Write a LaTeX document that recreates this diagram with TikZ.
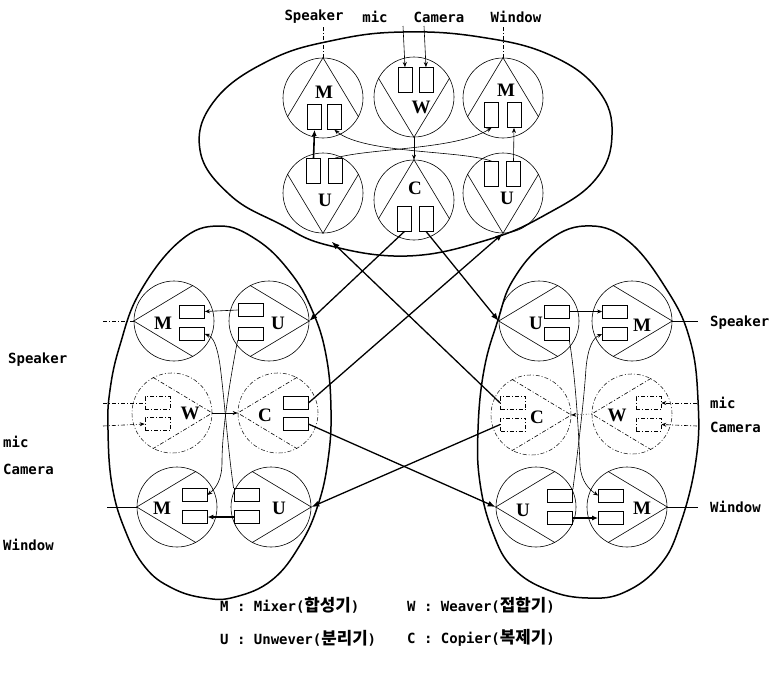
\documentclass[tikz,border=0pt]{standalone}
\usepackage{fontspec}
\usetikzlibrary{arrows.meta}
\newfontfamily\labfont{DejaVu Sans Mono}
\newfontfamily\krfont[Scale=1.2]{Noto Sans CJK KR}
\newfontfamily\serfont{Liberation Serif}
\begin{document}
\begin{tikzpicture}[x=1pt,y=-1pt,
  ucirc/.style={circle,draw,line width=0.6pt,minimum size=80pt,inner sep=0pt},
  ddash/.style={dash pattern=on 4pt off 2pt on 1pt off 2pt},
  dcirc/.style={ucirc,ddash,draw=black!85},
  vbox/.style={rectangle,draw,line width=0.8pt,minimum width=14pt,minimum height=25pt,inner sep=0pt},
  hbox/.style={rectangle,draw,line width=0.8pt,minimum width=25pt,minimum height=13pt,inner sep=0pt},
  dhbox/.style={hbox,ddash,line width=0.6pt},
  ltr/.style={font=\serfont\bfseries\fontsize{19}{19}\selectfont,inner sep=0pt},
  lab/.style={font=\labfont\bfseries\fontsize{14}{16}\selectfont,inner sep=0pt},
  chord/.style={line width=0.6pt},
  dchord/.style={line width=0.6pt,ddash},
  eline/.style={line width=1.5pt},
  xlink/.style={line width=1.3pt,-{Latex[length=8pt,width=6pt]}},
  inarrow/.style={line width=0.6pt,-{Stealth[length=5pt,width=4pt]}},
  boldarrow/.style={line width=1.6pt,-{Latex[length=6pt,width=5pt]}},
]
\useasboundingbox (0,0) rectangle (771,672);

% ---------- cluster outlines ----------
\draw[eline] plot[smooth cycle,tension=0.7] coordinates {(403,32) (480,37) (550,55) (598,90) (612,135) (595,180) (545,215) (487,240) (407,256) (327,245) (280,224) (230,195) (200,150) (215,100) (270,60) (335,40)};
\draw[eline] plot[smooth cycle,tension=0.7] coordinates {(219,226) (257,240) (290,272) (312,310) (326,355) (331,410) (328,460) (318,505) (300,545) (272,580) (235,597) (205,598) (172,588) (145,567) (125,530) (112,485) (108,430) (110,390) (120,345) (140,292) (180,241)};
\draw[eline] plot[smooth cycle,tension=0.7] coordinates {(585,226) (627,240) (667,290) (690,340) (698,400) (696,460) (680,525) (660,565) (625,592) (588,598) (548,590) (513,568) (493,533) (480,483) (478,430) (484,370) (498,320) (513,280) (545,243)};

% ---------- top cluster ----------
\node[ucirc] (tM1) at (323,98) {};
\node[ucirc] (tW) at (414,97) {};
\node[ucirc] (tM2) at (503,98) {};
\node[ucirc] (tU1) at (323,193) {};
\node[ucirc] (tC) at (414,200) {};
\node[ucirc] (tU2) at (503,193) {};
\draw[chord] (tM1.208) -- (tM1.90) -- (tM1.332);
\draw[chord] (tW.152) -- (tW.270) -- (tW.28);
\draw[chord] (tM2.208) -- (tM2.90) -- (tM2.332);
\draw[chord] (tU1.152) -- (tU1.270) -- (tU1.28);
\draw[chord] (tC.208) -- (tC.90) -- (tC.332);
\draw[chord] (tU2.152) -- (tU2.270) -- (tU2.28);
\node[ltr] (tM1t) at (324,92) {M};
\node[ltr] (tWt) at (421,107) {W};
\node[ltr] (tM2t) at (506,90) {M};
\node[ltr] (tU1t) at (325,200) {U};
\node[ltr] (tCt) at (415,188) {C};
\node[ltr] (tU2t) at (507,198) {U};
\node[vbox] (tM1a) at (314.5,117) {};
\node[vbox] (tM1b) at (334.5,117) {};
\node[vbox] (tWa) at (405,80) {};
\node[vbox] (tWb) at (426,80) {};
\node[vbox] (tM2a) at (491.5,115) {};
\node[vbox] (tM2b) at (514,115) {};
\node[vbox] (tU1a) at (313.5,171) {};
\node[vbox] (tU1b) at (335,171) {};
\node[vbox] (tCa) at (404.5,218.5) {};
\node[vbox] (tCb) at (426,218.5) {};
\node[vbox] (tU2a) at (491.5,174) {};
\node[vbox] (tU2b) at (513.5,174) {};

% top labels and inputs
\node[lab] (tsp) at (314,17) {Speaker};
\node[lab] (tmic) at (375,17) {mic};
\node[lab] (tcam) at (439,17) {Camera};
\node[lab] (twin) at (516,17) {Window};
\coordinate (tspc) at (323,27);
\coordinate (twinc) at (503,27);
\coordinate (tmicc) at (403,26);
\coordinate (tcamc) at (424,26);
\draw[chord,ddash] (tspc) -- (tM1.90);
\draw[chord,ddash] (twinc) -- (tM2.90);
\draw[inarrow] (tmicc) -- (tWa.north);
\draw[inarrow] (tcamc) -- (tWb.north);

% top internal connectors
\draw[boldarrow] (tU1a.north) -- (tM1a.south);
\draw[inarrow] (tU2b.north) -- (tM2b.south);
\draw[inarrow] (tW.270) -- (tC.90);
\draw[inarrow] (tU1b.north) .. controls (370,148) and (455,150) .. (tM2a.south);
\draw[inarrow] (tU2a.north) .. controls (460,150) and (365,154) .. (tM1b.south);

% ---------- left cluster ----------
\node[ucirc] (lM1) at (174,321) {};
\node[ucirc] (lU1) at (269,321) {};
\node[dcirc] (lW) at (172,413) {};
\node[dcirc] (lC) at (278,413) {};
\node[ucirc] (lM2) at (177,507) {};
\node[ucirc] (lU2) at (271,507) {};
\draw[chord] (lM1.62) -- (lM1.180) -- (lM1.298);
\draw[chord] (lU1.118) -- (lU1.0) -- (lU1.242);
\draw[dchord] (lW.118) -- (lW.0) -- (lW.242);
\draw[dchord] (lC.62) -- (lC.180) -- (lC.298);
\draw[chord] (lM2.62) -- (lM2.180) -- (lM2.298);
\draw[chord] (lU2.118) -- (lU2.0) -- (lU2.242);
\node[ltr] (lM1t) at (163,323) {M};
\node[ltr] (lU1t) at (278,323) {U};
\node[ltr] (lWt) at (190,413) {W};
\node[ltr] (lCt) at (265,415) {C};
\node[ltr] (lM2t) at (162,508) {M};
\node[ltr] (lU2t) at (279,508) {U};
\node[hbox] (lM1a) at (192,311.5) {};
\node[hbox] (lM1b) at (192,334) {};
\node[hbox] (lU1a) at (250.5,310) {};
\node[hbox] (lU1b) at (250.5,333.5) {};
\node[dhbox] (lWa) at (157.5,403) {};
\node[dhbox] (lWb) at (157.5,424) {};
\node[hbox] (lCa) at (295.5,403) {};
\node[hbox] (lCb) at (295.5,424) {};
\node[hbox] (lM2a) at (194.5,495) {};
\node[hbox] (lM2b) at (194.5,517) {};
\node[hbox] (lU2a) at (246.5,495) {};
\node[hbox] (lU2b) at (246.5,517) {};

% left labels and inputs
\node[lab,anchor=west] (lsp) at (8,360) {Speaker};
\node[lab,anchor=west] (lmic) at (3,442) {mic};
\node[lab,anchor=west] (lcam) at (3,469) {Camera};
\node[lab,anchor=west] (lwin) at (3,545) {Window};
\coordinate (lspc) at (103,321);
\coordinate (lmicc) at (103,403);
\coordinate (lcamc) at (103,426);
\coordinate (lwinc) at (107,507);
\draw[chord,ddash] (lspc) -- (lM1.180);
\draw[chord,ddash] (lmicc) -- (lWa.west);
\draw[inarrow,ddash] (lcamc) -- (lWb.west);
\draw[chord] (lwinc) -- (lM2.180);

% left internal connectors
\draw[inarrow] (lU1a.west) -- (lM1a.east);
\draw[boldarrow] (lU2b.west) -- (lM2b.east);
\draw[inarrow] (lW.0) -- (lC.180);
\draw[inarrow] (lU1b.south west) .. controls (230,380) and (222,430) .. (222,462) .. controls (222,480) and (216,488) .. (lM2a.east);
\draw[inarrow] (lU2a.north west) .. controls (228,450) and (224,395) .. (220,365) .. controls (217,345) and (213,337) .. (lM1b.east);

% ---------- right cluster ----------
\node[ucirc] (rU1) at (539,321) {};
\node[ucirc] (rM1) at (632,321) {};
\node[dcirc] (rC) at (531,415) {};
\node[dcirc] (rW) at (632,414) {};
\node[ucirc] (rU2) at (536,507) {};
\node[ucirc] (rM2) at (627,507) {};
\draw[chord] (rU1.62) -- (rU1.180) -- (rU1.298);
\draw[chord] (rM1.118) -- (rM1.0) -- (rM1.242);
\draw[dchord] (rC.118) -- (rC.0) -- (rC.242);
\draw[dchord] (rW.62) -- (rW.180) -- (rW.298);
\draw[chord] (rU2.62) -- (rU2.180) -- (rU2.298);
\draw[chord] (rM2.118) -- (rM2.0) -- (rM2.242);
\node[ltr] (rU1t) at (536,323) {U};
\node[ltr] (rM1t) at (642,325) {M};
\node[ltr] (rCt) at (537,417) {C};
\node[ltr] (rWt) at (617,415) {W};
\node[ltr] (rU2t) at (523,510) {U};
\node[ltr] (rM2t) at (642,508) {M};
\node[hbox] (rU1a) at (556.5,311.5) {};
\node[hbox] (rU1b) at (556.5,334) {};
\node[hbox] (rM1a) at (615,311.5) {};
\node[hbox] (rM1b) at (615,334) {};
\node[dhbox] (rCa) at (513,403) {};
\node[dhbox] (rCb) at (513,424.5) {};
\node[dhbox] (rWa) at (648.5,403) {};
\node[dhbox] (rWb) at (648.5,424.5) {};
\node[hbox] (rU2a) at (560,496) {};
\node[hbox] (rU2b) at (560,518) {};
\node[hbox] (rM2a) at (611,495.5) {};
\node[hbox] (rM2b) at (611,518) {};

% right labels and inputs
\node[lab,anchor=west] (rsp) at (710,323) {Speaker};
\node[lab,anchor=west] (rmic) at (710,403) {mic};
\node[lab,anchor=west] (rcam) at (710,427) {Camera};
\node[lab,anchor=west] (rwin) at (710,507) {Window};
\coordinate (rspc) at (698,321);
\coordinate (rmicc) at (697,403);
\coordinate (rcamc) at (697,426);
\coordinate (rwinc) at (698,507);
\draw[chord] (rM1.0) -- (rspc);
\draw[inarrow,ddash] (rmicc) -- (rWa.east);
\draw[inarrow,ddash] (rcamc) -- (rWb.east);
\draw[chord] (rM2.0) -- (rwinc);

% right internal connectors
\draw[inarrow] (rU1a.east) -- (rM1a.west);
\draw[boldarrow] (rU2b.east) -- (rM2b.west);
\draw[inarrow,dotted] (rW.180) -- (rC.0);
\draw[inarrow] (rU1b.south east) .. controls (576,380) and (579,440) .. (580,465) .. controls (581,482) and (590,490) .. (rM2a.west);
\draw[inarrow] (rU2a.north east) .. controls (578,450) and (584,400) .. (586,368) .. controls (588,347) and (593,338) .. (rM1b.west);

% ---------- links between clusters ----------
\draw[xlink] (tCa.south) -- (lU1.0);
\draw[xlink] (tCb.south) -- (rU1.180);
\draw[xlink] (lCa.east) -- (tU2.270);
\draw[xlink,shorten >=12pt] (rCa.west) -- (tU1.270);
\draw[xlink] (lCb.east) -- (rU2.180);
\draw[xlink] (rCb.west) -- (lU2.0);

% ---------- legend ----------
\node[lab,anchor=west] (legM) at (220,605) {M : Mixer({\krfont 합성기})};
\node[lab,anchor=west] (legW) at (407,605) {W : Weaver({\krfont 접합기})};
\node[lab,anchor=west] (legU) at (220,638) {U : Unwever({\krfont 분리기})};
\node[lab,anchor=west] (legC) at (407,638) {C : Copier({\krfont 복제기})};
\end{tikzpicture}
\end{document}
